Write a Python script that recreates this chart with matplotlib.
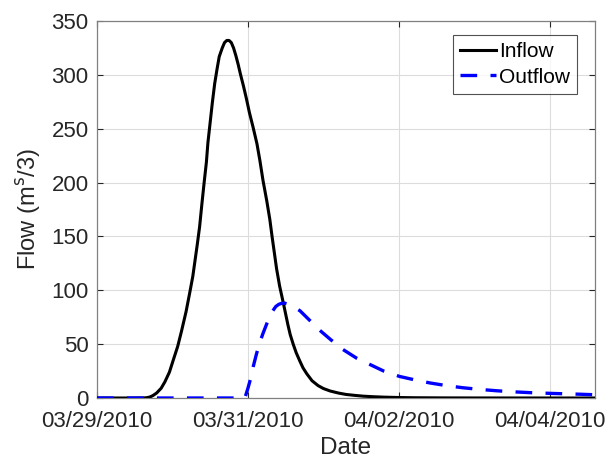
import numpy as np
import pandas as pd
import matplotlib
matplotlib.use('Agg')
import matplotlib.pyplot as plt
import matplotlib.dates as mdates

plt.rcParams['font.family'] = ['Liberation Sans', 'DejaVu Sans']

# ── data (days after 03/29/2010 00:00) ──
start = pd.Timestamp('2010-03-29')
inflow_days = [0.0, 0.5, 0.62, 0.66, 0.7, 0.74, 0.79, 0.85, 0.9, 0.96, 1.01, 1.07,
               1.12, 1.18, 1.23, 1.27, 1.3, 1.33, 1.36, 1.39, 1.42, 1.45, 1.47,
               1.5, 1.53, 1.56, 1.59, 1.62, 1.66, 1.69, 1.72, 1.75, 1.78, 1.81,
               1.84, 1.87, 1.9, 1.94, 1.98, 2.02, 2.07, 2.12, 2.16, 2.2, 2.25,
               2.29, 2.32, 2.35, 2.38, 2.42, 2.47, 2.5, 2.53, 2.56, 2.6, 2.64,
               2.69, 2.73, 2.78, 2.85, 2.93, 3.0, 3.09, 3.2, 3.3, 3.42, 3.53,
               3.66, 3.8, 4.0, 4.2, 4.6, 5.0, 6.0, 6.6]
inflow_vals = [0.0, 0.0, 0.1, 0.3, 0.9, 2.2, 4.6, 9, 15, 24, 35, 48,
               62, 80, 98, 113, 128, 143, 159, 180, 200, 219, 237,
               256, 275, 292, 305, 317, 325, 330, 332, 332, 330, 325,
               318, 310, 301, 290, 278, 265, 251, 236, 220, 202, 183,
               166, 150, 135, 120, 104, 88, 78, 68, 59, 50, 42,
               34, 28, 22.5, 16, 11.5, 8.8, 6.5, 4.6, 3.3, 2.4, 1.7,
               1.2, 0.8, 0.45, 0.25, 0.1, 0.05, 0.0, 0.0]

outflow_days = [0.0, 1.96, 2.0, 2.04, 2.07, 2.11, 2.15, 2.2, 2.25, 2.29, 2.33, 2.37,
                2.41, 2.45, 2.49, 2.54, 2.6, 2.69, 2.82, 2.95, 3.1, 3.26, 3.44,
                3.62, 3.8, 4.01, 4.2, 4.41, 4.63, 4.85, 5.07, 5.3, 5.5, 5.73,
                6.05, 6.4, 6.6]
outflow_vals = [0.0, 0.0, 9, 19, 29, 40, 50, 60, 69, 76, 81, 85,
                87, 88, 88, 87, 85, 81, 72, 63, 54, 45, 37,
                31, 25, 20, 17, 14, 11.5, 9.5, 8, 6.7, 5.8, 5.0,
                4.2, 3.5, 3.0]
tick_dates = ['2010-03-29', '2010-03-31', '2010-04-02', '2010-04-04']

inflow_t = start + pd.to_timedelta(inflow_days, unit='D')
outflow_t = start + pd.to_timedelta(outflow_days, unit='D')

fig = plt.figure(figsize=(6.06, 4.58), dpi=100, facecolor='white')
ax = fig.add_axes([0.160, 0.131, 0.822, 0.823])

ax.plot(inflow_t, inflow_vals, color='black', lw=2.2, label='Inflow', zorder=3)
ax.plot(outflow_t, outflow_vals, color='#0000ff', lw=2.4, linestyle=(0, (5, 4)),
        label='Outflow', zorder=3)

ax.set_xlim(start, start + pd.Timedelta(days=6.6))
ax.set_ylim(0, 350)
ax.set_yticks(np.arange(0, 351, 50))
ax.set_xticks(pd.to_datetime(tick_dates))
ax.xaxis.set_major_formatter(mdates.DateFormatter('%m/%d/%Y'))

ax.grid(True, color='#dcdcdc', linewidth=0.8)
ax.set_axisbelow(True)
ax.tick_params(direction='in', length=4, labelsize=16, colors='#262626',
               top=True, right=True)
ax.tick_params(axis='x', pad=9)
ax.tick_params(axis='y', pad=6)
for sp in ax.spines.values():
    sp.set_color('#808080')
    sp.set_linewidth(0.9)

ax.set_xlabel('Date', fontsize=17.5, color='#262626', labelpad=4)
ax.set_ylabel('Flow (m$^\\mathrm{s}$/3)', fontsize=17, color='#262626', labelpad=6)

leg = ax.legend(loc='upper right', fontsize=15, frameon=True, fancybox=False,
                edgecolor='#262626', handlelength=1.7, handletextpad=0.15,
                borderpad=0.35, labelspacing=0.3, borderaxespad=0,
                bbox_to_anchor=(0.964, 0.963))
leg.get_frame().set_linewidth(0.8)

fig.savefig('out.png', dpi=100)
